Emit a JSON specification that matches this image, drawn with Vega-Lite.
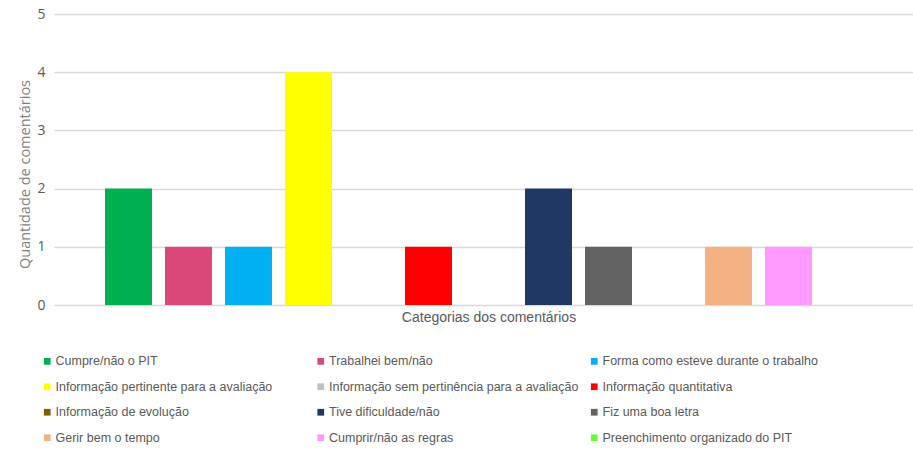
{
  "$schema": "https://vega.github.io/schema/vega-lite/v6.json",
  "width": 869,
  "height": 291,
  "autosize": {"type": "none"},
  "padding": {"left": 54, "top": 14, "right": 0, "bottom": 146},
  "background": "white",
  "config": {"view": {"stroke": null}},
  "data": {
    "values": [
      {"serie": "Cumpre/não o PIT", "n": 2},
      {"serie": "Trabalhei bem/não", "n": 1},
      {"serie": "Forma como esteve durante o trabalho", "n": 1},
      {"serie": "Informação pertinente para a avaliação", "n": 4},
      {"serie": "Informação sem pertinência para a avaliação", "n": 0},
      {"serie": "Informação quantitativa", "n": 1},
      {"serie": "Informação de evolução", "n": 0},
      {"serie": "Tive dificuldade/não", "n": 2},
      {"serie": "Fiz uma boa letra", "n": 1},
      {"serie": "(sem nome)", "n": 0},
      {"serie": "Gerir bem o tempo", "n": 1},
      {"serie": "Cumprir/não as regras", "n": 1},
      {"serie": "Preenchimento organizado do PIT", "n": 0}
    ]
  },
  "mark": {"type": "bar"},
  "encoding": {
    "x": {
      "field": "serie",
      "type": "nominal",
      "sort": ["Cumpre/não o PIT", "Trabalhei bem/não", "Forma como esteve durante o trabalho", "Informação pertinente para a avaliação", "Informação sem pertinência para a avaliação", "Informação quantitativa", "Informação de evolução", "Tive dificuldade/não", "Fiz uma boa letra", "(sem nome)", "Gerir bem o tempo", "Cumprir/não as regras", "Preenchimento organizado do PIT"],
      "scale": {"paddingInner": 0.2167, "paddingOuter": 0.85},
      "axis": {
        "labels": false,
        "ticks": false,
        "domain": false,
        "title": "Categorias dos comentários",
        "titleFont": "Liberation Sans",
        "titleFontSize": 14,
        "titleFontWeight": "normal",
        "titleColor": "#595959",
        "titlePadding": 5
      }
    },
    "y": {
      "field": "n",
      "type": "quantitative",
      "scale": {"domain": [0, 5], "nice": false},
      "axis": {
        "values": [0, 1, 2, 3, 4, 5],
        "title": "Quantidade de comentários",
        "titleFont": "Open Sans",
        "titleFontSize": 14.5,
        "titleFontWeight": "normal",
        "titleColor": "#7f7f7f",
        "titleX": -29,
        "titleY": 160,
        "titleAngle": -90,
        "titleAlign": "center",
        "titleBaseline": "middle",
        "labelFont": "Open Sans",
        "labelFontSize": 14,
        "labelColor": "#595959",
        "labelPadding": 9,
        "ticks": false,
        "domain": false,
        "gridColor": "#d9d9d9",
        "gridWidth": 1.3
      }
    },
    "color": {
      "field": "serie",
      "type": "nominal",
      "scale": {
        "domain": ["Cumpre/não o PIT", "Trabalhei bem/não", "Forma como esteve durante o trabalho", "Informação pertinente para a avaliação", "Informação sem pertinência para a avaliação", "Informação quantitativa", "Informação de evolução", "Tive dificuldade/não", "Fiz uma boa letra", "(sem nome)", "Gerir bem o tempo", "Cumprir/não as regras", "Preenchimento organizado do PIT"],
        "range": ["#00b050", "#da487a", "#00b0f0", "#ffff00", "#bfbfbf", "#ff0000", "#7f6000", "#203864", "#636363", "#ffffff", "#f4b183", "#ff99ff", "#66ff33"]
      },
      "legend": {
        "values": ["Cumpre/não o PIT", "Trabalhei bem/não", "Forma como esteve durante o trabalho", "Informação pertinente para a avaliação", "Informação sem pertinência para a avaliação", "Informação quantitativa", "Informação de evolução", "Tive dificuldade/não", "Fiz uma boa letra", "Gerir bem o tempo", "Cumprir/não as regras", "Preenchimento organizado do PIT"],
        "title": null,
        "orient": "none",
        "direction": "horizontal",
        "legendX": -13,
        "legendY": 341,
        "columns": 3,
        "gridAlign": "all",
        "columnPadding": 9.5,
        "rowPadding": 12.5,
        "symbolType": "square",
        "symbolSize": 45,
        "symbolStrokeWidth": 0,
        "labelOffset": 2,
        "labelFont": "Liberation Sans",
        "labelFontSize": 12.5,
        "labelColor": "#595959",
        "labelLimit": 400
      }
    }
  }
}
